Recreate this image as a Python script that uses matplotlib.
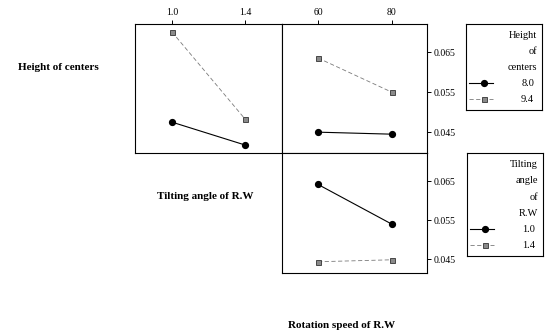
import matplotlib
matplotlib.use("Agg")
import matplotlib.pyplot as plt
from matplotlib.lines import Line2D

# ── data ───────────────────────────────────────────────────────────────
tilt_levels = [1.0, 1.4]
speed_levels = [60, 80]
tilt_ticklabels = ["1.0", "1.4"]
speed_ticklabels = ["60", "80"]
yticks = [0.045, 0.055, 0.065]
ytick_labels = ["0.045", "0.055", "0.065"]

# top-left: response vs tilting angle, grouped by height of centers
h80_vs_tilt = [0.0475, 0.0418]
h94_vs_tilt = [0.0700, 0.0483]
# top-right: response vs rotation speed, grouped by height of centers
h80_vs_speed = [0.0450, 0.0445]
h94_vs_speed = [0.0635, 0.0550]
# bottom-right: response vs rotation speed, grouped by tilting angle
t10_vs_speed = [0.0642, 0.0540]
t14_vs_speed = [0.0443, 0.0448]

height_legend = ["8.0", "9.4"]
tilt_legend = ["1.0", "1.4"]

plt.rcParams["font.family"] = ["Liberation Serif", "DejaVu Serif"]

W, H = 548, 335
fig = plt.figure(figsize=(W / 100, H / 100), dpi=100)


def px_axes(x0, y0, x1, y1):
    return fig.add_axes([x0 / W, 1 - y1 / H, (x1 - x0) / W, (y1 - y0) / H])


solid = dict(color="black", lw=0.8, marker="o", ms=4.2, mfc="black", mec="black")
dashed = dict(color="#7a7a7a", lw=0.6, ls=(0, (5, 3)), marker="s", ms=3.6,
              mfc="#8a8a8a", mec="#333333", mew=0.6)

ax_tl = px_axes(135, 24, 282, 153)
ax_tr = px_axes(282, 24, 427, 153)
ax_br = px_axes(282, 153, 427, 273)

ax_tl.plot(tilt_levels, h80_vs_tilt, **solid)
ax_tl.plot(tilt_levels, h94_vs_tilt, **dashed)
ax_tr.plot(speed_levels, h80_vs_speed, **solid)
ax_tr.plot(speed_levels, h94_vs_speed, **dashed)
ax_br.plot(speed_levels, t10_vs_speed, **solid)
ax_br.plot(speed_levels, t14_vs_speed, **dashed)

ax_tl.set_xlim(0.797, 1.603)
ax_tr.set_xlim(50.2, 89.6)
ax_br.set_xlim(50.2, 89.6)
ax_tl.set_ylim(0.0398, 0.072)
ax_tr.set_ylim(0.0398, 0.072)
ax_br.set_ylim(0.0414, 0.0723)

for ax in (ax_tl, ax_tr, ax_br):
    for s in ax.spines.values():
        s.set_linewidth(0.8)
    ax.set_xticks([])
    ax.set_yticks([])

ax_tl.xaxis.tick_top()
ax_tl.set_xticks(tilt_levels, tilt_ticklabels)
ax_tr.xaxis.tick_top()
ax_tr.set_xticks(speed_levels, speed_ticklabels)
for ax in (ax_tr, ax_br):
    ax.yaxis.tick_right()
    ax.set_yticks(yticks, ytick_labels)
for ax in (ax_tl, ax_tr, ax_br):
    ax.tick_params(length=3, width=0.7, labelsize=7, pad=2)

# factor names
fig.text(58 / W, 1 - 67 / H, "Height of centers", ha="center", va="center",
         fontsize=8, fontweight="bold")
fig.text(205 / W, 1 - 196 / H, "Tilting angle of R.W", ha="center", va="center",
         fontsize=8, fontweight="bold")
fig.text(342 / W, 1 - 325 / H, "Rotation speed of R.W", ha="center", va="center",
         fontsize=8, fontweight="bold")


# ── legend boxes ───────────────────────────────────────────────────────
def legend_box(x0, y0, x1, y1, title_lines, labels, first_y):
    lax = px_axes(x0, y0, x1, y1)
    lax.set_xlim(x0, x1)
    lax.set_ylim(y1, y0)
    lax.set_xticks([])
    lax.set_yticks([])
    for s in lax.spines.values():
        s.set_linewidth(0.8)
    y = first_y
    for line in title_lines:
        lax.text(x1 - 5, y, line, ha="right", va="center", fontsize=7.5)
        y += 16
    for label, style in zip(labels, (solid, dashed)):
        lax.add_line(Line2D([x0 + 3, x0 + 27], [y, y], **{k: v for k, v in style.items() if not k.startswith("m")}))
        lax.plot([x0 + 18], [y], ls="none", **{k: v for k, v in style.items() if k.startswith("m")})
        lax.text(x1 - 8, y, label, ha="right", va="center", fontsize=7.5)
        y += 16


legend_box(466, 24, 542, 110, ["Height", "of", "centers"], height_legend, 35)
legend_box(467, 153, 543, 256, ["Tilting", "angle", "of", "R.W"], tilt_legend, 165)

fig.savefig("out.png", dpi=100)
